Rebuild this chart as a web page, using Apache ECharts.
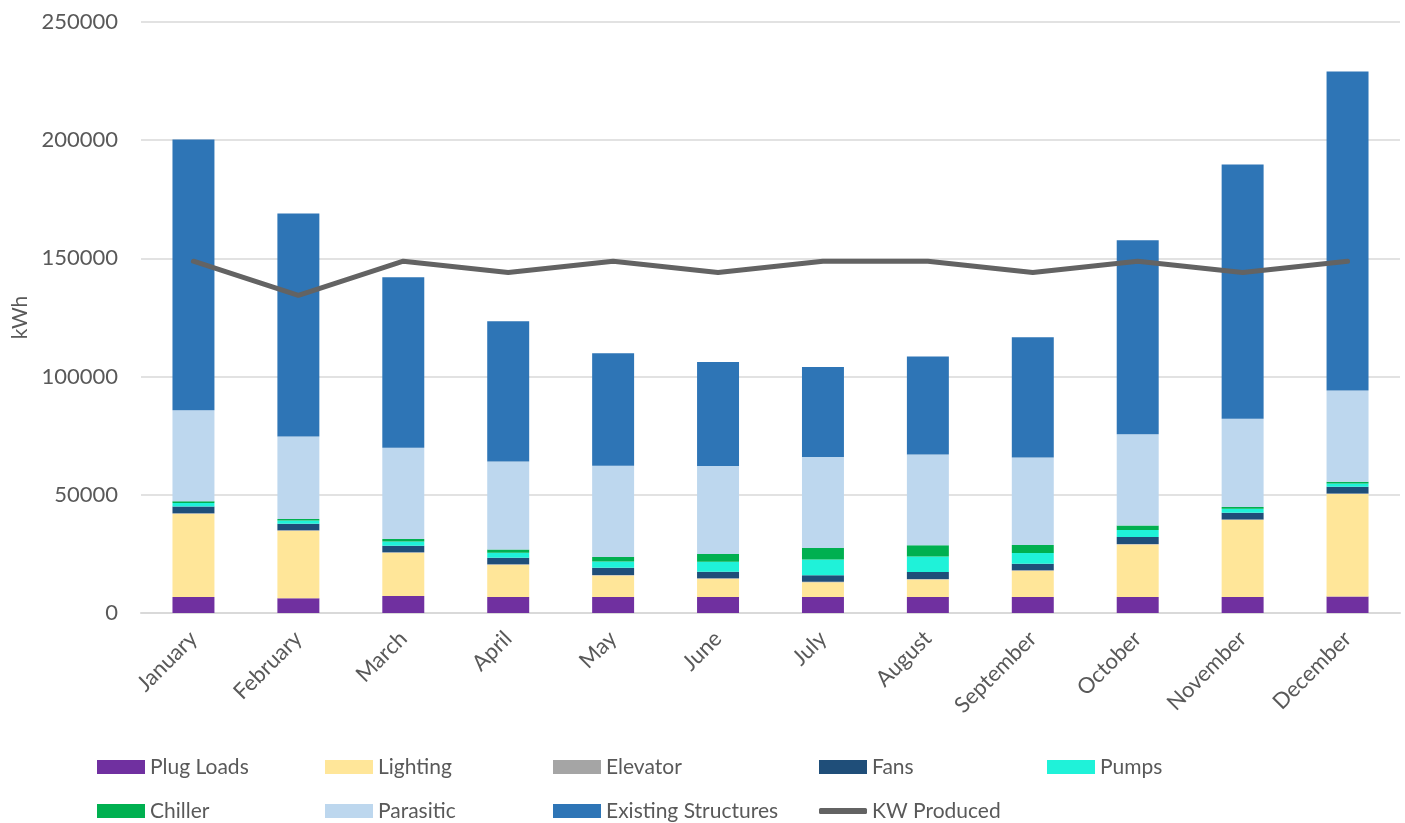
<!DOCTYPE html>
<html>
<head>
<meta charset="utf-8">
<script src="https://cdn.jsdelivr.net/npm/echarts@6/dist/echarts.min.js"></script>
<style>
  html, body { margin: 0; padding: 0; background: #fff; }
  #chart { width: 1405px; height: 823px; }
</style>
</head>
<body>
<div id="chart"></div>
<script>
  // months
  var months = ['January', 'February', 'March', 'April', 'May', 'June', 'July',
    'August', 'September', 'October', 'November', 'December'];

  // stacked loads, kWh
  var plugLoads = [6800, 6200, 7200, 6800, 6800, 6800, 6800, 6800, 6800, 6800, 6800, 7000];
  var lighting = [35200, 28600, 18300, 13600, 9100, 7700, 6200, 7400, 11100, 22200, 32600, 43300];
  var elevator = [200, 200, 200, 200, 200, 200, 200, 200, 200, 200, 200, 200];
  var fans = [2800, 2750, 2760, 2770, 3000, 2760, 2760, 2900, 2760, 2900, 2760, 2900];
  var pumps = [1550, 1420, 1830, 2110, 2670, 4220, 6620, 6620, 4510, 2960, 1690, 1410];
  var chiller = [700, 560, 990, 1410, 1970, 3250, 4930, 4790, 3380, 1970, 840, 700];
  var parasitic = [38500, 34900, 38600, 37200, 38500, 37200, 38500, 38300, 37000, 38600, 37300, 38600];
  var existingStructures = [114500, 94400, 72100, 59300, 47600, 44000, 38100, 41500, 50900, 82000, 107500, 135000];

  // produced
  var kwProduced = [148800, 134400, 148800, 144000, 148800, 144000, 148800, 148800, 144000, 148800, 144000, 148800];

  var yTicks = { min: 0, max: 250000, interval: 50000 };

  var font = 'Lato';
  var textGrey = '#595959';

  function bar(name, data, color) {
    return {
      name: name,
      type: 'bar',
      stack: 'load',
      data: data,
      barWidth: '40%',
      itemStyle: { color: color },
      emphasis: { disabled: true }
    };
  }

  // one legend per entry, laid out like the excel grid
  function legendAt(name, left, row, icon, iconH) {
    var h = iconH || 14;
    var lineH = 24;
    return {
      left: left,
      top: (row === 0 ? 767 : 811) - lineH / 2,
      padding: 0,
      itemWidth: 48,
      itemHeight: h,
      itemGap: 0,
      data: [{ name: name, icon: icon || 'rect' }],
      selectedMode: false,
      textStyle: {
        color: textGrey, fontSize: 21, fontFamily: font, lineHeight: lineH
      }
    };
  }

  var chart = echarts.init(document.getElementById('chart'));
  chart.setOption({
    animation: false,
    textStyle: { fontFamily: font },
    grid: { left: 141, right: 5, top: 22, bottom: 210 },
    legend: [
      legendAt('Plug Loads', 97, 0),
      legendAt('Lighting', 325, 0),
      legendAt('Elevator', 553, 0),
      legendAt('Fans', 819, 0),
      legendAt('Pumps', 1047, 0),
      legendAt('Chiller', 97, 1),
      legendAt('Parasitic', 325, 1),
      legendAt('Existing Structures', 553, 1),
      legendAt('KW Produced', 819, 1, 'roundRect', 6)
    ],
    xAxis: {
      type: 'category',
      data: months,
      axisTick: { show: false },
      axisLine: { lineStyle: { color: '#d9d9d9', width: 2 } },
      axisLabel: {
        rotate: 45,
        margin: 22,
        color: textGrey,
        fontSize: 22,
        fontFamily: font
      }
    },
    yAxis: {
      type: 'value',
      min: yTicks.min,
      max: yTicks.max,
      interval: yTicks.interval,
      name: 'kWh',
      nameLocation: 'middle',
      nameGap: 102,
      nameTextStyle: { color: textGrey, fontSize: 21, fontFamily: font },
      axisLine: { show: false },
      axisTick: { show: false },
      axisLabel: {
        color: textGrey, fontSize: 22, fontFamily: font, margin: 23,
        formatter: function (v) { return String(v); }
      },
      splitLine: { lineStyle: { color: '#d9d9d9', width: 1.5 } }
    },
    series: [
      bar('Plug Loads', plugLoads, '#7030A0'),
      bar('Lighting', lighting, '#FFE699'),
      bar('Elevator', elevator, '#A5A5A5'),
      bar('Fans', fans, '#1F4E79'),
      bar('Pumps', pumps, '#1FF2D9'),
      bar('Chiller', chiller, '#00B050'),
      bar('Parasitic', parasitic, '#BDD7EE'),
      bar('Existing Structures', existingStructures, '#2E75B6'),
      {
        name: 'KW Produced',
        type: 'line',
        data: kwProduced,
        symbol: 'none',
        z: 10,
        lineStyle: { color: '#636363', width: 5, cap: 'round', join: 'round' },
        itemStyle: { color: '#636363' }
      }
    ]
  });
</script>
</body>
</html>
